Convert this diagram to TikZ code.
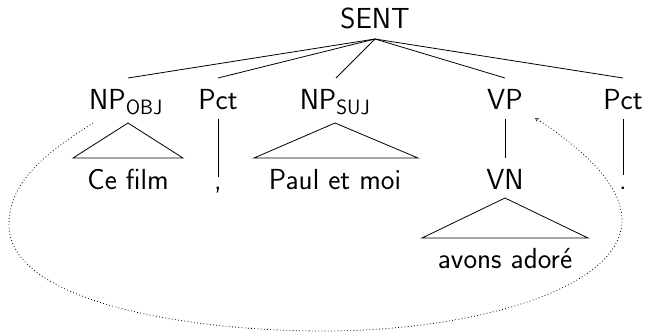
\documentclass[tikz,border=0pt]{standalone}
\usetikzlibrary{arrows.meta}
\begin{document}
\begin{tikzpicture}[x=1pt,y=1pt,
  lbl/.style={anchor=base,inner sep=0pt,font=\sffamily\fontsize{29}{35}\selectfont},
  edge/.style={line width=0.8pt},
  link/.style={line width=0.8pt,dash pattern=on 0.8pt off 2.4pt,-{Straight Barb[length=3pt,width=3.5pt,line width=0.6pt]}}]
\useasboundingbox (0,0) rectangle (646,-333);
% labels
\node[lbl] (sent) at (375,-28) {SENT};
\node[lbl] (npobj) at (126,-109) {NP$_{\mathsf{OBJ}}$};
\node[lbl] (pcta) at (218,-109) {Pct};
\node[lbl] (npsuj) at (335,-109) {NP$_{\mathsf{SUJ}}$};
\node[lbl] (vp) at (505,-109) {VP};
\node[lbl] (pctb) at (623,-109) {Pct};
\node[lbl] (cefilm) at (128,-189) {Ce film};
\node[lbl] (comma) at (218,-189) {,};
\node[lbl] (paul) at (335,-189) {Paul et moi};
\node[lbl] (vn) at (505,-189) {VN};
\node[lbl] (dot) at (623,-189) {.};
\node[lbl] (avons) at (505,-268) {avons adoré};
% connection points
\coordinate (sentb) at (375,-39);
\coordinate (npobjt) at (128,-78);
\coordinate (pctat) at (218,-78);
\coordinate (npsujt) at (336,-78);
\coordinate (vpt) at (505,-78);
\coordinate (pctbt) at (623,-78);
\coordinate (pctab) at (218,-119);
\coordinate (commat) at (218,-177);
\coordinate (vpb) at (505,-119);
\coordinate (vnt) at (505,-158);
\coordinate (pctbb) at (623,-119);
\coordinate (dott) at (623,-175);
\coordinate (npobjb) at (128,-123);
\coordinate (cefilml) at (73,-158);
\coordinate (cefilmr) at (183,-158);
\coordinate (npsujb) at (335,-123);
\coordinate (paull) at (254,-158);
\coordinate (paulr) at (418,-158);
\coordinate (vnb) at (505,-198);
\coordinate (avonsl) at (422,-238);
\coordinate (avonsr) at (588,-238);
\coordinate (linkstart) at (93,-123);
\coordinate (linkend) at (535,-118);
\coordinate (linkl) at (9,-225);
\coordinate (linkbot) at (325,-331);
\coordinate (linkr) at (622,-220);
% tree edges
\foreach \c in {npobjt,pctat,npsujt,vpt,pctbt} \draw[edge] (sentb) -- (\c);
\draw[edge] (pctab) -- (commat);
\draw[edge] (vpb) -- (vnt);
\draw[edge] (pctbb) -- (dott);
\draw[edge] (cefilml) -- (npobjb) -- (cefilmr) -- cycle;
\draw[edge] (paull) -- (npsujb) -- (paulr) -- cycle;
\draw[edge] (avonsl) -- (vnb) -- (avonsr) -- cycle;
% dotted link
\draw[link] (linkstart) .. controls +(-45,-29) and +(0,45) .. (linkl)
  .. controls +(0,-75) and +(-145,0) .. (linkbot)
  .. controls +(145,0) and +(0,-70) .. (linkr)
  .. controls +(0,40) and +(35,-22) .. (linkend);
\end{tikzpicture}
\end{document}
